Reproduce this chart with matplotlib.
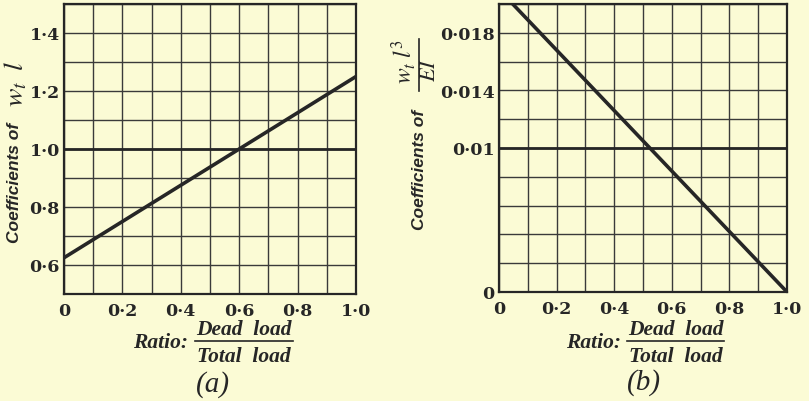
import matplotlib
matplotlib.use("Agg")
import matplotlib.pyplot as plt
from matplotlib.lines import Line2D
from matplotlib.ticker import MultipleLocator, FixedLocator

plt.rcParams["mathtext.fontset"] = "stix"

W, H = 809, 402
BG = "#fbfbd5"
INK = "#262626"

# Ratio dead load / total load
ratio = [0.0, 1.0]

# (a) coefficient of w_t*l
coef_a = [0.625, 1.25]
a_yticks = [0.6, 0.8, 1.0, 1.2, 1.4]
a_ylabels = ["0·6", "0·8", "1·0", "1·2", "1·4"]

# (b) coefficient of w_t*l^3/EI
coef_b = [0.021, 0.0]
b_yticks = [0.0, 0.01, 0.014, 0.018]
b_ylabels = ["0", "0·01", "0·014", "0·018"]

xticks = [0.0, 0.2, 0.4, 0.6, 0.8, 1.0]
xlabels = ["0", "0·2", "0·4", "0·6", "0·8", "1·0"]


def fx(px):
    return px / W


def fy(py):
    return 1 - py / H


fig = plt.figure(figsize=(W / 100, H / 100), dpi=100, facecolor=BG)

tick_font = dict(family="DejaVu Serif", size=12.5, color=INK,
                 weight="bold")


def setup(ax, ylim, yticks, ylabels, ystep, ref):
    ax.set_facecolor(BG)
    ax.set_xlim(0, 1)
    ax.set_ylim(*ylim)
    ax.xaxis.set_major_locator(FixedLocator(xticks))
    ax.set_xticklabels(xlabels, **tick_font)
    ax.yaxis.set_major_locator(FixedLocator(yticks))
    ax.set_yticklabels(ylabels, **tick_font)
    ax.xaxis.set_minor_locator(MultipleLocator(0.1))
    ax.yaxis.set_minor_locator(MultipleLocator(ystep))
    ax.grid(True, which="both", color="#3a3a3a", linewidth=1.0)
    ax.tick_params(which="both", length=0)
    ax.tick_params(axis="x", pad=6)
    ax.tick_params(axis="y", pad=3)
    for s in ax.spines.values():
        s.set_color(INK)
        s.set_linewidth(1.6)
    ax.axhline(ref, color=INK, linewidth=2.0, zorder=3)
    ax.set_axisbelow(True)


ax1 = fig.add_axes([fx(64), fy(295), fx(356) - fx(64), fy(5) - fy(295)])
setup(ax1, (0.5, 1.5), a_yticks, a_ylabels, 0.1, 1.0)
ax1.plot(ratio, coef_a, color=INK, linewidth=2.6, zorder=4)

ax2 = fig.add_axes([fx(499), fy(293), fx(787) - fx(499), fy(5) - fy(293)])
setup(ax2, (0.0, 0.02), b_yticks, b_ylabels, 0.002, 0.01)
ax2.plot(ratio, coef_b, color=INK, linewidth=2.6, zorder=4)

lab_font = dict(family="Liberation Sans", weight="bold", style="italic",
                size=12.5, color=INK)
ser_font = dict(family="Liberation Serif", weight="bold", style="italic",
                size=15.5, color=INK)

# y-axis title, panel (a)
fig.text(fx(15), fy(183), "Coefficients of", rotation=90,
         ha="center", va="center", **lab_font)
fig.text(fx(15), fy(84), r"$w_t\;\;l$", rotation=90, ha="center",
         va="center", size=20, color=INK)

# y-axis title, panel (b): text plus a stacked fraction
fig.text(fx(419), fy(170), "Coefficients of", rotation=90,
         ha="center", va="center", **lab_font)
fig.text(fx(404), fy(62), r"$w_t\;l^3$", rotation=90, ha="center",
         va="center", size=17, color=INK)
fig.add_artist(Line2D([fx(418.5), fx(418.5)], [fy(40), fy(92)],
                      transform=fig.transFigure, color=INK, linewidth=1.2))
fig.text(fx(429), fy(70), r"$EI$", rotation=90, ha="center",
         va="center", size=16, color=INK)


# x-axis titles as a ratio
def ratio_label(right_of_ratio, x0, x1, ybar):
    fig.text(fx(right_of_ratio), fy(ybar + 1), "Ratio:", ha="right",
             va="center", **ser_font)
    xc = (x0 + x1) / 2
    fig.text(fx(xc), fy(ybar - 12), "Dead  load", ha="center",
             va="center", **ser_font)
    fig.text(fx(xc), fy(ybar + 15), "Total  load", ha="center",
             va="center", **ser_font)
    fig.add_artist(Line2D([fx(x0), fx(x1)], [fy(ybar), fy(ybar)],
                          transform=fig.transFigure, color=INK,
                          linewidth=1.2))


ratio_label(188, 195, 293, 342)
ratio_label(621, 627, 724, 342)

fig.text(fx(213), fy(385), "(a)", ha="center", va="center",
         family="Liberation Serif", style="italic", size=21, color=INK)
fig.text(fx(644), fy(383), "(b)", ha="center", va="center",
         family="Liberation Serif", style="italic", size=21, color=INK)

fig.savefig("out.png", dpi=100, facecolor=BG)
